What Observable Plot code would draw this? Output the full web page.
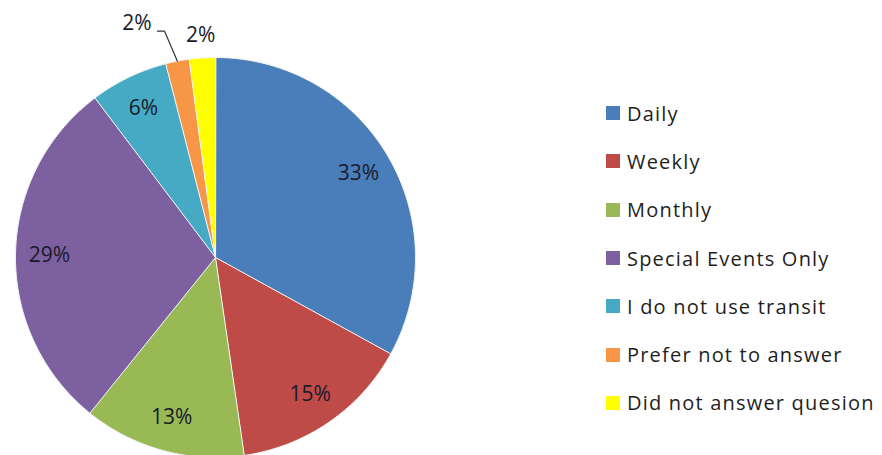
<!DOCTYPE html>
<html>
<head>
<meta charset="utf-8">
<script src="https://cdn.jsdelivr.net/npm/d3@7"></script>
<script src="https://cdn.jsdelivr.net/npm/@observablehq/plot@0.6"></script>
<style>
  html, body { margin: 0; padding: 0; background: #fff; overflow: hidden; }
  #wrap { position: relative; width: 882px; height: 455px; }
  #chart { position: absolute; left: 0; top: 0; }
  #legend { position: absolute; left: 606px; top: 89px; }
  .leg-swatches { margin: 0 !important; min-height: 0 !important; }
  .leg-swatch { height: 48.3px; padding: 0 !important; margin: 0 !important; display: flex !important; align-items: center; }
  .leg-swatch > svg { margin-right: 7px !important; }
  .leg-swatch::before { content: none !important; display: none !important; }
  .leg-swatch-label, .leg-swatch span { font-family: "Open Sans", sans-serif; font-size: 20px; letter-spacing: 1.2px; color: #1e1e1e; white-space: nowrap; overflow: visible !important; max-width: none !important; }
</style>
</head>
<body>
<div id="wrap"><div id="chart"></div><div id="legend"></div></div>
<script>
const categories = ["Daily", "Weekly", "Monthly", "Special Events Only", "I do not use transit", "Prefer not to answer", "Did not answer quesion"];
const shares = [33.0, 14.7, 13.1, 28.9, 6.3, 1.9, 2.1];
const labels = ["33%", "15%", "13%", "29%", "6%", "2%", "2%"];
const colors = ["#4A7EBB", "#BE4B48", "#98B954", "#7D60A0", "#46AAC5", "#F79646", "#FFFF00"];

const rows = categories.map((c, i) => ({name: c, share: shares[i], label: labels[i]}));
const arcs = d3.pie().sort(null).value(d => d.share).startAngle(0).endAngle(2 * Math.PI)(rows);
const polar = (a, r) => [r * Math.sin(a), -r * Math.cos(a)];

const slices = arcs.map(a => {
  const n = Math.max(4, Math.ceil((a.endAngle - a.startAngle) / 0.01));
  const ring = [[0, 0]];
  for (let k = 0; k <= n; k++) ring.push(polar(a.startAngle + (a.endAngle - a.startAngle) * k / n, 1));
  ring.push([0, 0]);
  return {type: "Feature", properties: {name: a.data.name}, geometry: {type: "Polygon", coordinates: [ring]}};
});

// label placement: inside for large slices, outside for the two small ones
const DEG = Math.PI / 180;
const labelPts = [];
const leader = [];
arcs.forEach((a, i) => {
  const mid = (a.startAngle + a.endAngle) / 2;
  if (a.data.share >= 5) {
    const [x, y] = polar(mid, 0.83);
    labelPts.push({x, y, text: a.data.label, anchor: "middle"});
  } else if (a.data.name === "Prefer not to answer") {
    const edge = polar(mid, 1);
    const elbow = polar(mid - 1.7 * DEG, 1.16);
    const end = [elbow[0] - 0.035, elbow[1]];
    leader.push({x: edge[0], y: edge[1]}, {x: elbow[0], y: elbow[1]}, {x: end[0], y: end[1]});
    labelPts.push({x: end[0] - 0.03, y: end[1] - 0.04, text: a.data.label, anchor: "end"});
  } else {
    const [x, y] = polar(mid, 1.115);
    labelPts.push({x, y, text: a.data.label, anchor: "middle"});
  }
});

const square = {type: "Polygon", coordinates: [[[-1, -1], [1, -1], [1, 1], [-1, 1], [-1, -1]]]};

const chart = Plot.plot({
  width: 882,
  height: 455,
  marginLeft: 15,
  marginRight: 467,
  marginTop: 57,
  marginBottom: -2,
  projection: {type: "identity", domain: square, inset: 0, clip: false},
  color: {domain: categories, range: colors},
  style: {background: "transparent", overflow: "visible"},
  marks: [
    Plot.geo(slices, {fill: d => d.properties.name, stroke: "#f4f4f4", strokeWidth: 1, clip: false}),
    Plot.line(leader, {x: "x", y: "y", stroke: "#333", strokeWidth: 1.2, curve: "linear", clip: false}),
    Plot.text(labelPts.filter(d => d.anchor === "middle"), {x: "x", y: "y", text: "text", textAnchor: "middle", fontSize: 21, fontFamily: "Open Sans", fill: "#1a1a2a", letterSpacing: 1.3, clip: false}),
    Plot.text(labelPts.filter(d => d.anchor === "end"), {x: "x", y: "y", text: "text", textAnchor: "end", fontSize: 21, fontFamily: "Open Sans", fill: "#1a1a2a", letterSpacing: 1.3, clip: false})
  ]
});
document.getElementById("chart").appendChild(chart);

const legend = Plot.legend({
  color: {domain: categories, range: colors},
  legend: "swatches",
  columns: 1,
  swatchSize: 14,
  className: "leg",
  style: {fontFamily: "Open Sans", fontSize: "20px"}
});
document.getElementById("legend").appendChild(legend);
</script>
</body>
</html>
